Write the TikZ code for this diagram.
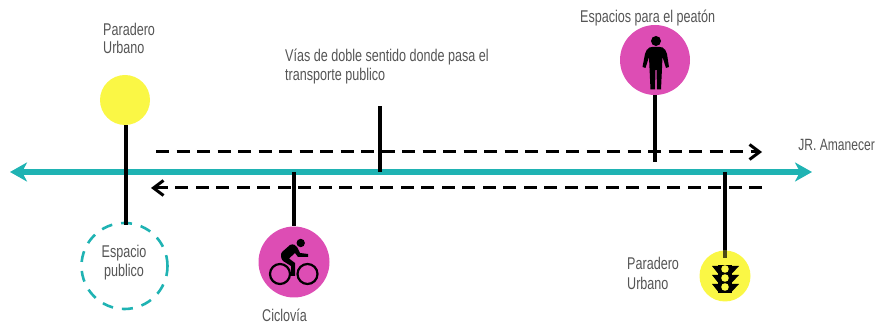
\documentclass[tikz,border=0pt]{standalone}
\usepackage{fontspec}
\setmainfont[FakeStretch=0.74]{Liberation Sans}
\usetikzlibrary{arrows.meta}
\definecolor{tealc}{HTML}{1FB3B3}
\definecolor{magc}{HTML}{DD4DB4}
\definecolor{yelc}{HTML}{FAF745}
\definecolor{txtc}{HTML}{555555}
\tikzset{
  x=1pt,y=-1pt,
  lab/.style={font=\fontsize{17}{22}\selectfont,text=txtc,align=left,inner sep=0pt},
  rod/.style={line width=4.5pt,black},
  road/.style={line width=6.5pt,tealc,{Stealth[length=17pt,width=19pt,inset=5pt]}-{Stealth[length=17pt,width=19pt,inset=5pt]}},
  lane/.style={line width=3pt,black,dash pattern=on 13pt off 7.5pt,-{Straight Barb[length=10pt,width=15pt,line width=3pt]}},
  disc/.style={circle,inner sep=0pt,minimum size=#1},
  icon/.style={black,draw=none,fill=black}
}
\begin{document}
\begin{tikzpicture}
\useasboundingbox (0,0) rectangle (876,323);
% road anchors
\coordinate (roadL) at (10,172);
\coordinate (roadR) at (812,172);
\coordinate (j1) at (294,172);
\coordinate (j2) at (380,172);
\coordinate (j3) at (725,172);
\coordinate (top) at (380,106);
\coordinate (j4) at (655,162);
\coordinate (la) at (156,152);
\coordinate (lb) at (762,152);
\coordinate (lc) at (762,188);
\coordinate (ld) at (151,188);
\coordinate (rodA) at (126,125);
\coordinate (rodB) at (126,225);
% discs
\node[disc=50pt,fill=yelc] (stopA) at (125,100) {};
\node[disc=86pt,draw=tealc,line width=2.6pt,dash pattern=on 11pt off 9pt] (pub) at (124.5,266) {};
\node[disc=70pt,fill=magc] (ped) at (655,60) {};
\node[disc=71pt,fill=magc] (bike) at (294,262) {};
\node[disc=51pt,fill=yelc] (stopB) at (725,276) {};
% lanes and road
\draw[lane] (la) -- (lb);
\draw[lane] (lc) -- (ld);
\draw[road] (roadL) -- (roadR);
% rods
\draw[rod] (rodA) -- (rodB);
\draw[rod] (j2) -- (top);
\draw[rod] (ped.south) -- (j4);
\draw[rod] (j1) -- (bike.north);
\draw[rod] (j3) -- (stopB.north);
\fill[black!70!yelc] (722.75,250.5) rectangle (727.25,258);
% person icon
\fill[icon] (656,41) circle (5);
\fill[icon] (649.5,47.5) .. controls (653,46.5) and (659,46.5) .. (662.5,47.5)
  .. controls (665,48.5) and (666,51) .. (667,54) -- (669,67) -- (666,68) -- (662.5,57)
  -- (662,68) -- (661,89.5) -- (657,89.5) -- (656.5,70) -- (655.5,70) -- (655,89.5) -- (650.5,89.5) -- (649.5,68) -- (649,57)
  -- (645.5,68) -- (642.5,67) -- (645,54) .. controls (646,51) and (647,48.5) .. (649.5,47.5) -- cycle;
% bike icon
\fill[icon] (300.7,243) circle (4.2);
\draw[line width=2.2pt] (280,274) circle (10);
\draw[line width=2.2pt] (307.5,274) circle (10);
\fill[icon] (282,252) -- (290,245) .. controls (293,243.5) and (296,245) .. (297,247) -- (300,253) -- (308,254) -- (308,257) -- (298,257) -- (295,253) -- (289,258.5) -- (295,263) -- (295,276) -- (291,276) -- (291,266) -- (283,261) .. controls (281,259) and (280,254) .. (282,252) -- cycle;
% traffic light icon
\fill[icon] (718,265) rectangle (732,293.5);
\fill[icon] (712,266) -- (718,266) -- (718,273.5) -- cycle;
\fill[icon] (739,266) -- (732,266) -- (732,273.5) -- cycle;
\fill[icon] (712,275) -- (718,275) -- (718,282.5) -- cycle;
\fill[icon] (739,275) -- (732,275) -- (732,282.5) -- cycle;
\fill[icon] (712,284) -- (718,284) -- (718,291.5) -- cycle;
\fill[icon] (739,284) -- (732,284) -- (732,291.5) -- cycle;
\fill[yelc] (725,269) circle (3.8) (725,278) circle (3.8) (725,287) circle (3.8);
% labels
\node[lab,anchor=west] (t1) at (103,29) {Paradero};
\node[lab,anchor=west] (t2) at (103,47) {Urbano};
\node[lab,anchor=west] (t3) at (285,57) {Vías de doble sentido donde pasa el};
\node[lab,anchor=west] (t4) at (285,76) {transporte publico};
\node[lab,anchor=west] (t5) at (580,18) {Espacios para el peatón};
\node[lab,anchor=east,font=\fontsize{16.3}{22}\selectfont] (t6) at (875,145) {JR. Amanecer};
\node[lab,anchor=center] (t7) at (124,253.5) {Espacio};
\node[lab,anchor=center] (t8) at (124,272.5) {publico};
\node[lab,anchor=west] (t9) at (262,315) {Ciclovía};
\node[lab,anchor=west] (t10) at (627,263) {Paradero};
\node[lab,anchor=west] (t11) at (627,283) {Urbano};
\end{tikzpicture}
\end{document}
